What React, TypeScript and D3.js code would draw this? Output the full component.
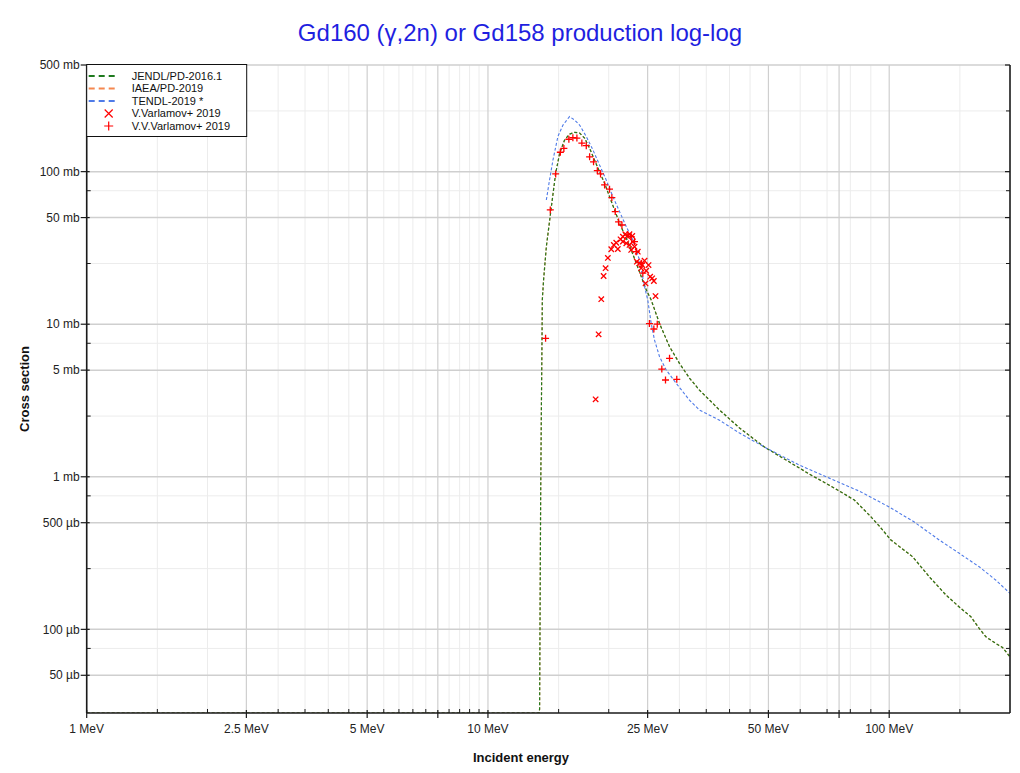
import * as d3 from 'd3';

const chartTitle = 'Gd160 (γ,2n) or Gd158 production log-log';

// evaluated curves: incident energy (MeV) / cross section (mb)
const jendlEnergy = [1, 13.4, 13.45, 13.49, 13.53, 13.58, 13.63, 13.66, 13.76, 13.98, 14.39, 14.75, 15.09, 15.52, 15.97, 16.44, 16.92, 17.41, 17.92, 18.44, 18.97, 19.53, 20.09, 20.68, 21.28, 22.03, 22.75, 23.42, 24.1, 24.8, 25.52, 26.77, 28.35, 30.01, 31.78, 33.66, 37.76, 42.35, 48.87, 56.41, 63.24, 73.02, 81.88, 89.2, 94.5, 101, 114.4, 125.9, 138.5, 149.5, 159.8, 167.6, 174.2, 184.5, 191.6, 200];
const jendlXs = [0, 0, 0.03, 0.155, 0.7, 2.36, 6.78, 14.4, 19.5, 32.2, 59.0, 97.6, 132, 161, 176, 181, 179, 166, 142, 119, 100, 83.9, 68.6, 56.1, 45.9, 37.5, 30.7, 25.1, 20.5, 16.8, 14.4, 10.1, 7.12, 5.54, 4.44, 3.7, 2.74, 2.09, 1.566, 1.249, 1.042, 0.843, 0.704, 0.561, 0.475, 0.385, 0.299, 0.221, 0.168, 0.14, 0.121, 0.1014, 0.0893, 0.0808, 0.0761, 0.066];
// IAEA/PD-2019 sits right under JENDL
const iaeaEnergy = jendlEnergy;
const iaeaXs = jendlXs;

const tendlEnergy = [13.98, 14.24, 14.52, 14.94, 15.38, 15.97, 16.44, 16.92, 17.58, 18.26, 18.97, 19.71, 20.48, 21.28, 22.12, 22.96, 23.86, 24.56, 25.02, 25.52, 26.01, 26.77, 27.82, 29.45, 31.78, 33.66, 37.76, 42.35, 48.87, 59.7, 70.9, 84.2, 100.1, 115.5, 133.3, 149.5, 167.6, 184.5, 200];
const tendlXs = [65.2, 88.2, 119, 170, 202, 229.5, 218, 202, 170, 139, 110.6, 88.2, 68.6, 54.7, 43.6, 35.7, 26.4, 17.6, 14.4, 10.1, 7.87, 6.12, 5.01, 4.1, 3.18, 2.74, 2.35, 1.934, 1.566, 1.193, 0.98, 0.806, 0.633, 0.505, 0.385, 0.315, 0.257, 0.21, 0.172];

// EXFOR points
const varlamovEnergy = [18.55, 18.87, 19.16, 19.42, 19.64, 19.9, 20.29, 20.59, 20.88, 21.07, 21.4, 21.69, 21.99, 22.24, 22.53, 22.89, 21.69, 22.12, 22.53, 22.96, 23.19, 22.75, 23.63, 23.5, 23.86, 24.24, 24.56, 24.1, 25.13, 24.8, 25.37, 25.66, 25.91, 24.7, 26.16];
const varlamovXs = [3.22, 8.58, 14.6, 20.7, 23.3, 27.2, 31.0, 33.1, 34.2, 31.1, 36.0, 37.5, 38.9, 37.9, 38.9, 37.9, 34.8, 33.9, 33.1, 34.8, 32.2, 30.7, 29.9, 25.7, 25.1, 24.4, 26.1, 23.3, 24.4, 22.4, 20.5, 20.0, 19.2, 18.5, 15.3];

const vvEnergy = [13.92, 14.3, 14.75, 15.15, 15.46, 15.91, 16.28, 16.66, 17.14, 17.58, 17.92, 18.33, 18.73, 19.08, 19.53, 20.09, 20.36, 20.76, 21.16, 21.57, 22.32, 22.75, 23.19, 23.42, 24.1, 24.32, 25.26, 26.42, 25.91, 28.35, 27.12, 27.7, 29.55];
const vvXs = [8.08, 56.1, 96.6, 134, 142, 163, 167, 166, 154, 148, 125, 116, 101.5, 96.6, 81.8, 76.7, 67.5, 54.7, 46.8, 44.7, 38.5, 37.5, 34.8, 29.9, 25.1, 21.6, 10.1, 10.0, 9.3, 5.98, 5.08, 4.31, 4.35];

// axis ticks
const xMajor = [1, 2.5, 5, 7.5, 10, 25, 50, 75, 100];
const xLabeled = [1, 2.5, 5, 10, 25, 50, 100];
const xMinor = [1.5, 2, 3, 3.5, 4, 4.5, 5.5, 6, 6.5, 7, 8, 8.5, 9, 9.5, 15, 20, 30, 35, 40, 45, 60, 70, 80, 90, 150];
const yMajor = [500, 100, 50, 10, 5, 1, 0.5, 0.1, 0.05];
const yMinor = [250, 75, 25, 7.5, 2.5, 0.75, 0.25, 0.075];

const W = 1020;
const H = 773;
const M = { left: 86.7, right: 1010, top: 65, bottom: 713 };
const FONT = '"Liberation Sans", Arial, Helvetica, sans-serif';

const JENDL_C = '#1f7a1f';
const IAEA_C = '#f5874f';
const TENDL_C = '#4f7be8';
const MARK_C = '#ff0000';

const zip = (a: number[], b: number[]) => a.map((v, i) => [v, b[i]] as [number, number]);

const fmtY = (v: number) => (v >= 1 ? `${v} mb` : `${Math.round(v * 1000)} µb`);

export default function App() {
  const x = d3.scaleLog().domain([1, 200]).range([M.left, M.right]);
  const y = d3.scaleLog().domain([0.0283, 500]).range([M.bottom, M.top]).clamp(true);

  const line = d3.line<[number, number]>()
    .x(d => x(d[0]))
    .y(d => (d[1] > 0 ? y(d[1]) : M.bottom));

  const plus = 'M-3.5,0H3.5M0,-3.5V3.5';
  const cross = 'M-2.7,-2.7L2.7,2.7M-2.7,2.7L2.7,-2.7';

  const legend = [
    { label: 'JENDL/PD-2016.1', color: JENDL_C, kind: 'line' },
    { label: 'IAEA/PD-2019', color: IAEA_C, kind: 'line' },
    { label: 'TENDL-2019 *', color: TENDL_C, kind: 'line' },
    { label: 'V.Varlamov+ 2019', color: MARK_C, kind: 'cross' },
    { label: 'V.V.Varlamov+ 2019', color: MARK_C, kind: 'plus' },
  ];

  return (
    <svg width={W} height={H} style={{ position: 'absolute', left: 0, top: 0, background: '#fff' }} fontFamily={FONT}>
      <defs>
        <clipPath id="plot-clip">
          <rect x={M.left} y={M.top - 1} width={M.right - M.left} height={M.bottom - M.top + 1} />
        </clipPath>
      </defs>

      <text x={520} y={41} textAnchor="middle" fontSize={24} fill="#1f1fe0">{chartTitle}</text>

      {/* grid */}
      <g>
        {xMinor.map(v => (
          <line key={'gx' + v} x1={x(v)} x2={x(v)} y1={M.top} y2={M.bottom} stroke="#ececec" strokeWidth={1} />
        ))}
        {yMinor.map(v => (
          <line key={'gy' + v} x1={M.left} x2={M.right} y1={y(v)} y2={y(v)} stroke="#ececec" strokeWidth={1} />
        ))}
        {xMajor.map(v => (
          <line key={'gX' + v} x1={x(v)} x2={x(v)} y1={M.top} y2={M.bottom} stroke="#cfcfcf" strokeWidth={1.2} />
        ))}
        {yMajor.map(v => (
          <line key={'gY' + v} x1={M.left} x2={M.right} y1={y(v)} y2={y(v)} stroke="#cfcfcf" strokeWidth={1.5} />
        ))}
      </g>

      {/* curves */}
      <g clipPath="url(#plot-clip)" fill="none">
        <path d={line(zip(iaeaEnergy, iaeaXs)) || ''} stroke={IAEA_C} strokeWidth={1.2} strokeDasharray="3,2" />
        <path d={line(zip(jendlEnergy, jendlXs)) || ''} stroke={JENDL_C} strokeWidth={1.2} strokeDasharray="3,2" />
        <path d={line(zip(tendlEnergy, tendlXs)) || ''} stroke={TENDL_C} strokeWidth={1.1} strokeDasharray="3,2" />
      </g>

      {/* data points */}
      <g stroke={MARK_C} strokeWidth={1.3} fill="none" clipPath="url(#plot-clip)">
        {zip(varlamovEnergy, varlamovXs).map((d, i) => (
          <path key={'vx' + i} d={cross} transform={`translate(${x(d[0])},${y(d[1])})`} />
        ))}
        {zip(vvEnergy, vvXs).map((d, i) => (
          <path key={'vp' + i} d={plus} transform={`translate(${x(d[0])},${y(d[1])})`} />
        ))}
      </g>

      {/* axes */}
      <g stroke="#1a1a1a">
        <line x1={M.left} x2={M.left} y1={M.top} y2={M.bottom} strokeWidth={1.6} />
        <line x1={M.right} x2={M.right} y1={M.top} y2={M.bottom} strokeWidth={1.6} />
        <line x1={M.left} x2={M.right} y1={M.bottom} y2={M.bottom} strokeWidth={1.6} />
        {xMajor.map(v => (
          <line key={'tX' + v} x1={x(v)} x2={x(v)} y1={M.bottom - 3} y2={M.bottom + 5} strokeWidth={1.2} />
        ))}
        {xMinor.map(v => (
          <line key={'tx' + v} x1={x(v)} x2={x(v)} y1={M.bottom - 4} y2={M.bottom} strokeWidth={1} />
        ))}
        {yMajor.map(v => (
          <g key={'tY' + v}>
            <line x1={M.left - 6} x2={M.left + 3} y1={y(v)} y2={y(v)} strokeWidth={1.2} />
            <line x1={M.right - 5} x2={M.right} y1={y(v)} y2={y(v)} strokeWidth={1.2} />
          </g>
        ))}
        {yMinor.map(v => (
          <g key={'ty' + v}>
            <line x1={M.left} x2={M.left + 4} y1={y(v)} y2={y(v)} strokeWidth={1} />
            <line x1={M.right - 4} x2={M.right} y1={y(v)} y2={y(v)} strokeWidth={1} />
          </g>
        ))}
      </g>

      {xLabeled.map(v => (
        <text key={'lx' + v} x={x(v)} y={733} textAnchor="middle" fontSize={12} fill="#222">{`${v} MeV`}</text>
      ))}
      {yMajor.map(v => (
        <text key={'ly' + v} x={M.left - 7} y={y(v)} dy="0.35em" textAnchor="end" fontSize={12} fill="#222">{fmtY(v)}</text>
      ))}

      <text x={521} y={762} textAnchor="middle" fontSize={13} fontWeight="bold" fill="#111">Incident energy</text>
      <text transform={`translate(29,${(M.top + M.bottom) / 2}) rotate(-90)`} textAnchor="middle" fontSize={13} fontWeight="bold" fill="#111">Cross section</text>

      {/* legend */}
      <g transform={`translate(${M.left},${M.top - 0.5})`}>
        <rect x={0} y={0} width={160} height={72} fill="#fff" stroke="#111" strokeWidth={1} />
        {legend.map((item, i) => {
          const cy = 11.5 + i * 12.5;
          return (
            <g key={item.label} transform={`translate(0,${cy})`}>
              {item.kind === 'line' && (
                <line x1={2} x2={31} y1={0} y2={0} stroke={item.color} strokeWidth={2} strokeDasharray="6,4" />
              )}
              {item.kind === 'cross' && (
                <path d="M-4,-4L4,4M-4,4L4,-4" transform="translate(22,0)" stroke={item.color} strokeWidth={1.2} fill="none" />
              )}
              {item.kind === 'plus' && (
                <path d="M-4.5,0H4.5M0,-4.5V4.5" transform="translate(22,0)" stroke={item.color} strokeWidth={1.2} fill="none" />
              )}
              <text x={45} y={0} dy="0.35em" fontSize={11} fill="#111">{item.label}</text>
            </g>
          );
        })}
      </g>
    </svg>
  );
}
